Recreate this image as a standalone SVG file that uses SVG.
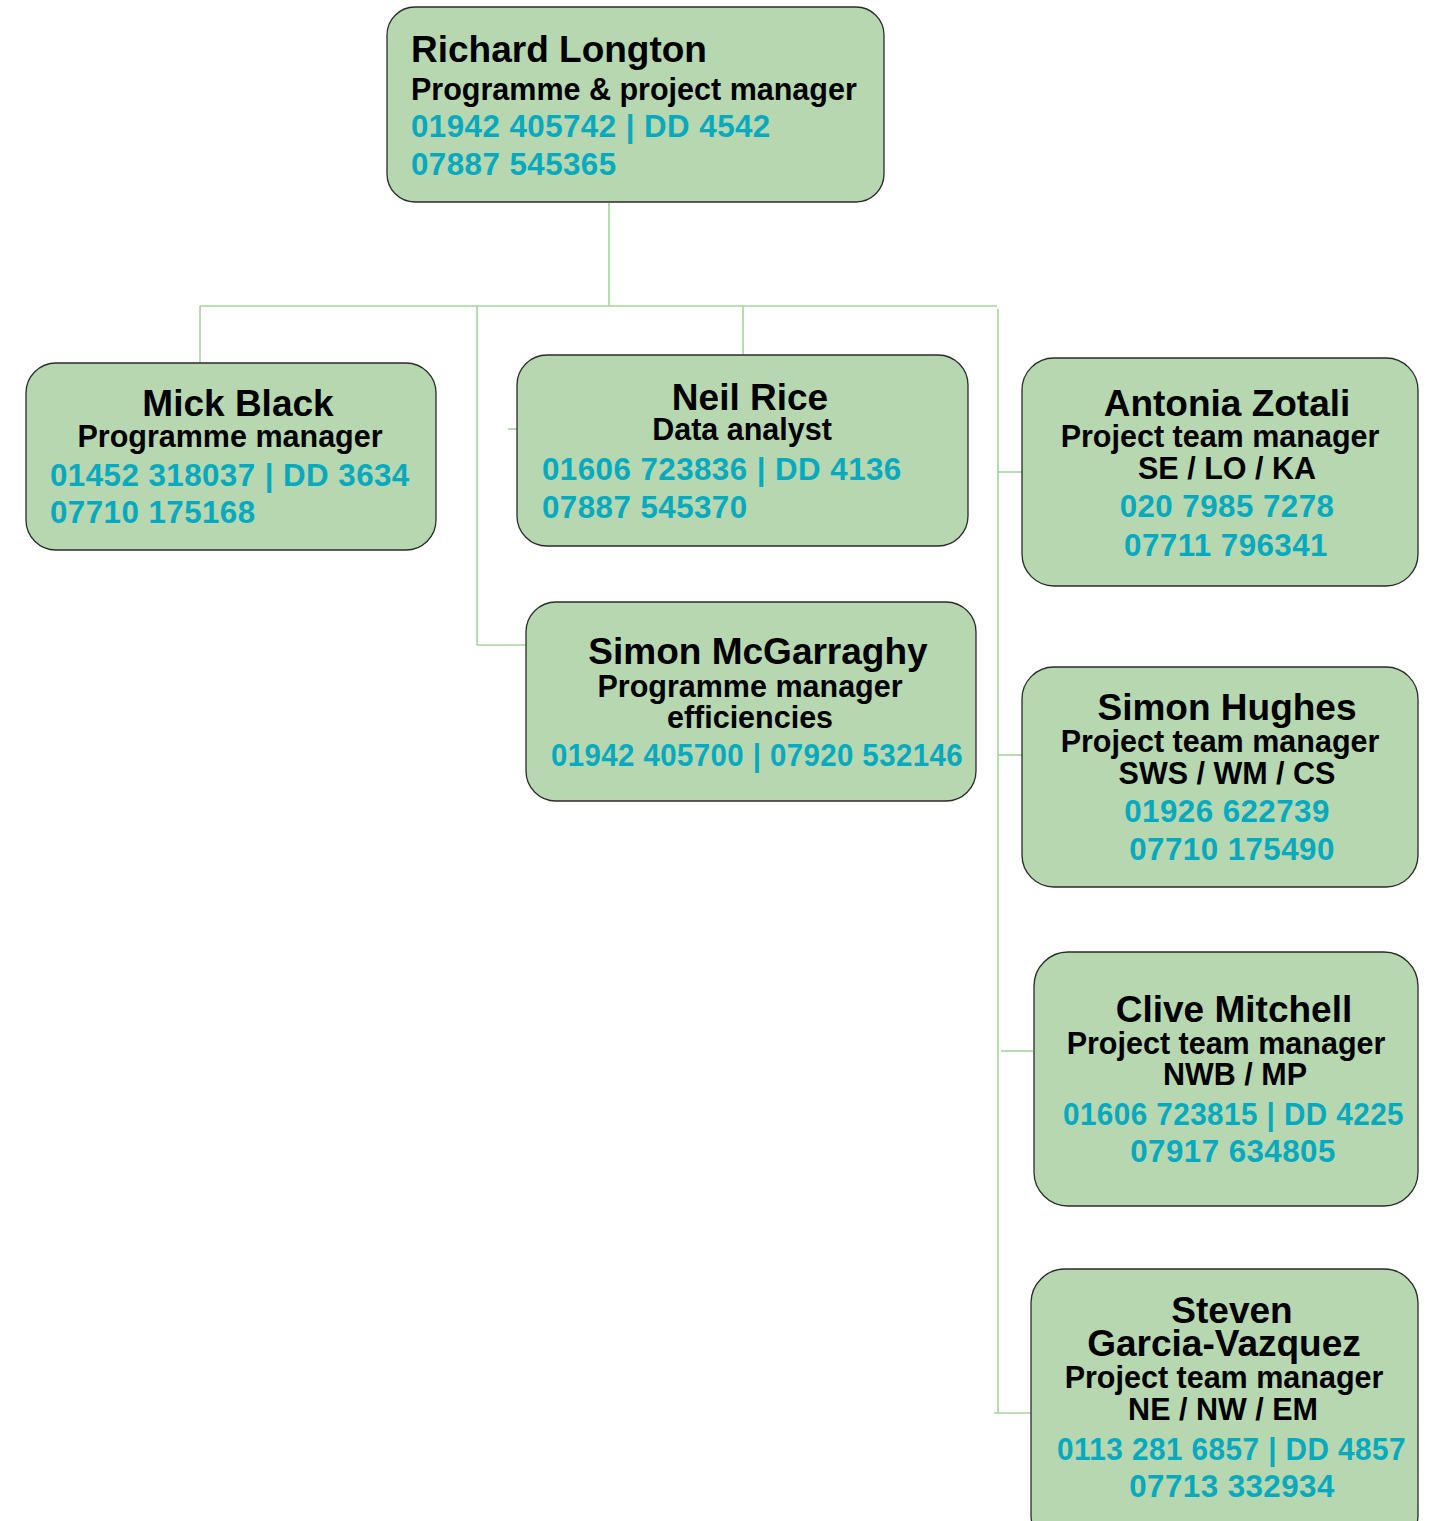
<svg xmlns="http://www.w3.org/2000/svg" width="1435" height="1521" viewBox="0 0 1435 1521">
<style>
.box{fill:#b6d7af;stroke:#2b2b2b;stroke-width:1.3}
.conn line{stroke:#a6d49f;stroke-width:1.6;fill:none}
text{font-family:"Liberation Sans",Arial,sans-serif;font-weight:bold}
.name{font-size:37px;fill:#000}
.role{font-size:30.5px;fill:#000}
.ph{font-size:31.3px;fill:#06aabf;letter-spacing:0.45px}
.c{text-anchor:middle}
</style>
<rect width="1435" height="1521" fill="#ffffff"/>
<g class="conn" id="connectors">
<line x1="609" y1="203" x2="609" y2="306"/>
<line x1="200" y1="306" x2="997" y2="306"/>
<line x1="200" y1="306" x2="200" y2="363"/>
<line x1="743" y1="306" x2="743" y2="364"/>
<line x1="477" y1="306" x2="477" y2="645"/>
<line x1="477" y1="645" x2="526" y2="645"/>
<line x1="508" y1="429" x2="517" y2="429"/>
<line x1="998" y1="309" x2="998" y2="1413"/>
<line x1="998" y1="472" x2="1022" y2="472"/>
<line x1="998" y1="755" x2="1022" y2="755"/>
<line x1="1001" y1="1051" x2="1033" y2="1051"/>
<line x1="994" y1="1413" x2="1031" y2="1413"/>
</g>
<g id="richard">
<rect class="box" x="387" y="7" width="497" height="195" rx="28"/>
<text class="name" x="411" y="62">Richard Longton</text>
<text class="role" x="411" y="100">Programme &amp; project manager</text>
<text class="ph" x="411" y="137">01942 405742 | DD 4542</text>
<text class="ph" x="411" y="175">07887 545365</text>
</g>
<g id="mick">
<rect class="box" x="26" y="363" width="410" height="187" rx="30"/>
<text class="name c" x="238" y="416">Mick Black</text>
<text class="role c" x="230" y="447">Programme manager</text>
<text class="ph" x="50" y="486">01452 318037 | DD 3634</text>
<text class="ph" x="50" y="523">07710 175168</text>
</g>
<g id="neil">
<rect class="box" x="517" y="355" width="451" height="191" rx="30"/>
<text class="name c" x="750" y="410">Neil Rice</text>
<text class="role c" x="742" y="440">Data analyst</text>
<text class="ph" x="542" y="480">01606 723836 | DD 4136</text>
<text class="ph" x="542" y="518">07887 545370</text>
</g>
<g id="simon-mcgarraghy">
<rect class="box" x="526" y="602" width="450" height="199" rx="30"/>
<text class="name c" x="758" y="664">Simon McGarraghy</text>
<text class="role c" x="750" y="697">Programme manager</text>
<text class="role c" x="750" y="728">efficiencies</text>
<text class="ph" x="551" y="766" textLength="412" lengthAdjust="spacingAndGlyphs">01942 405700 | 07920 532146</text>
</g>
<g id="antonia">
<rect class="box" x="1022" y="358" width="396" height="228" rx="32"/>
<text class="name c" x="1227" y="416">Antonia Zotali</text>
<text class="role c" x="1220" y="447">Project team manager</text>
<text class="role c" x="1227" y="479">SE / LO / KA</text>
<text class="ph c" x="1227" y="517">020 7985 7278</text>
<text class="ph c" x="1226" y="556">07711 796341</text>
</g>
<g id="simon-hughes">
<rect class="box" x="1022" y="667" width="396" height="220" rx="32"/>
<text class="name c" x="1227" y="720">Simon Hughes</text>
<text class="role c" x="1220" y="752">Project team manager</text>
<text class="role c" x="1227" y="784">SWS / WM / CS</text>
<text class="ph c" x="1227" y="822">01926 622739</text>
<text class="ph c" x="1232" y="860">07710 175490</text>
</g>
<g id="clive">
<rect class="box" x="1034" y="952" width="384" height="254" rx="34"/>
<text class="name c" x="1234" y="1022">Clive Mitchell</text>
<text class="role c" x="1226" y="1054">Project team manager</text>
<text class="role c" x="1235" y="1085">NWB / MP</text>
<text class="ph" x="1063" y="1125" textLength="341" lengthAdjust="spacingAndGlyphs">01606 723815 | DD 4225</text>
<text class="ph c" x="1233" y="1162">07917 634805</text>
</g>
<g id="steven">
<rect class="box" x="1031" y="1269" width="387" height="280" rx="34"/>
<text class="name c" x="1232" y="1323">Steven</text>
<text class="name c" x="1224" y="1356">Garcia-Vazquez</text>
<text class="role c" x="1224" y="1388">Project team manager</text>
<text class="role c" x="1223" y="1420">NE / NW / EM</text>
<text class="ph" x="1057" y="1460" textLength="349" lengthAdjust="spacingAndGlyphs">0113 281 6857 | DD 4857</text>
<text class="ph c" x="1232" y="1497">07713 332934</text>
</g>
</svg>
